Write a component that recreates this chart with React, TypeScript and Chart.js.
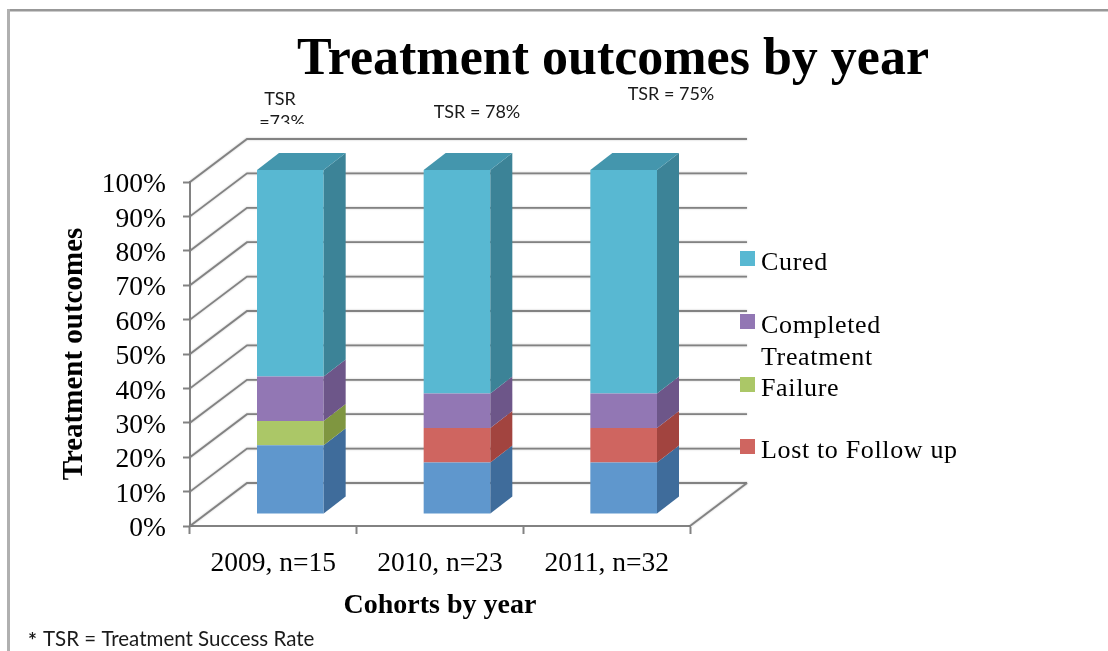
import React, { useEffect, useRef } from "react";
import { Chart, registerables } from "chart.js";

Chart.register(...registerables);

const categories = ["2009, n=15", "2010, n=23", "2011, n=32"];
const other = [20, 15, 15];
const lostToFollowUp = [0, 10, 10];
const failure = [7, 0, 0];
const completedTreatment = [13, 10, 10];
const cured = [60, 65, 65];
const tsrNotes = ["TSR", "TSR = 78%", "TSR = 75%"];

const SERIF = '"Liberation Serif", "DejaVu Serif", serif';
const SANS = 'Lato, "Open Sans", sans-serif';

const FRONT: Record<string, string> = {
  blue: "#5f97cd",
  red: "#cf6560",
  green: "#abc767",
  purple: "#9277b4",
  teal: "#58b8d2",
};
const SIDE: Record<string, string> = {
  blue: "#3f6c9b",
  red: "#a2443f",
  green: "#7f9640",
  purple: "#6d5689",
  teal: "#3c8397",
};
const TOP_FACE = "#4496ad";
const LINE = "#828282";

const BAR_SHIFT = { x: 17, y: -12 };
const BAR_DEPTH = { x: 22, y: -17 };
const WALL_DEPTH = { x: 57, y: -43 };

const sceneryPlugin = {
  id: "scenery",
  beforeDraw(chart: any) {
    const { ctx, width, height } = chart;
    ctx.save();
    ctx.fillStyle = "#ffffff";
    ctx.fillRect(0, 0, width, height);
    ctx.fillStyle = "#989898";
    ctx.fillRect(7, 9, width - 7, 2.5);
    ctx.fillStyle = "#b0b0b0";
    ctx.fillRect(7, 9, 3, height - 9);
    ctx.restore();
  },
  beforeDatasetsDraw(chart: any) {
    const { ctx, chartArea, scales } = chart;
    const y = scales.y;
    ctx.save();
    ctx.strokeStyle = LINE;
    ctx.lineWidth = 1.8;
    ctx.shadowColor = "rgba(0,0,0,0.25)";
    ctx.shadowBlur = 2;
    y.ticks.forEach((t: any) => {
      const py = y.getPixelForValue(t.value);
      ctx.beginPath();
      ctx.moveTo(chartArea.left, py);
      ctx.lineTo(chartArea.left + WALL_DEPTH.x, py + WALL_DEPTH.y);
      ctx.lineTo(chartArea.right + WALL_DEPTH.x, py + WALL_DEPTH.y);
      ctx.stroke();
    });
    ctx.beginPath();
    ctx.moveTo(chartArea.right, chartArea.bottom);
    ctx.lineTo(chartArea.right + WALL_DEPTH.x, chartArea.bottom + WALL_DEPTH.y);
    ctx.stroke();
    ctx.restore();
    ctx.save();
    ctx.translate(BAR_SHIFT.x, BAR_SHIFT.y);
  },
  afterDatasetsDraw(chart: any) {
    const { ctx } = chart;
    const dx = BAR_DEPTH.x;
    const dy = BAR_DEPTH.y;
    chart.data.datasets.forEach((ds: any, di: number) => {
      chart.getDatasetMeta(di).data.forEach((bar: any, i: number) => {
        if (!ds.data[i]) return;
        const { x, y, base, width } = bar.getProps(["x", "y", "base", "width"], true);
        const r = x + width / 2;
        const l = x - width / 2;
        ctx.fillStyle = ds.sideColor;
        ctx.beginPath();
        ctx.moveTo(r, y);
        ctx.lineTo(r + dx, y + dy);
        ctx.lineTo(r + dx, base + dy);
        ctx.lineTo(r, base);
        ctx.closePath();
        ctx.fill();
        if (di === chart.data.datasets.length - 1) {
          ctx.fillStyle = TOP_FACE;
          ctx.beginPath();
          ctx.moveTo(l, y);
          ctx.lineTo(l + dx, y + dy);
          ctx.lineTo(r + dx, y + dy);
          ctx.lineTo(r, y);
          ctx.closePath();
          ctx.fill();
        }
      });
    });
    ctx.restore();
  },
  afterDraw(chart: any) {
    const { ctx } = chart;
    ctx.save();
    ctx.textBaseline = "alphabetic";

    // Title
    ctx.fillStyle = "#000000";
    ctx.font = `bold 52px ${SERIF}`;
    ctx.textAlign = "center";
    ctx.fillText("Treatment outcomes by year", 613, 74);

    // TSR notes above each column
    ctx.font = `18px ${SANS}`;
    ctx.fillStyle = "#1a1a1a";
    const noteX = [280, 477, 671];
    const noteY = [105, 118, 100];
    tsrNotes.forEach((note, i) => {
      ctx.fillText(note, noteX[i], noteY[i]);
    });
    ctx.save();
    ctx.beginPath();
    ctx.rect(250, 112, 70, 12);
    ctx.clip();
    ctx.fillText("=73%", 282, 128);
    ctx.restore();

    // Legend
    ctx.textAlign = "left";
    ctx.font = `26px ${SERIF}`;
    (ctx as any).letterSpacing = "0.65px";
    const legend = [
      { color: FRONT.teal, lines: ["Cured"], y: 270 },
      { color: FRONT.purple, lines: ["Completed", "Treatment"], y: 333 },
      { color: FRONT.green, lines: ["Failure"], y: 396 },
      { color: FRONT.red, lines: ["Lost to Follow up"], y: 458 },
    ];
    legend.forEach((item) => {
      ctx.fillStyle = item.color;
      ctx.fillRect(740, item.y - 19, 15, 15);
      ctx.fillStyle = "#000000";
      item.lines.forEach((line, k) => ctx.fillText(line, 761, item.y + k * 32));
    });
    (ctx as any).letterSpacing = "0px";

    // Footnote
    ctx.fillStyle = "#1a1a1a";
    ctx.font = `bold 21px ${SANS}`;
    ctx.fillText("*", 28, 648);
    ctx.font = `20.5px ${SANS}`;
    ctx.fillText("TSR = Treatment Success Rate", 43, 646);
    ctx.restore();
  },
};

export default function App() {
  const ref = useRef<HTMLCanvasElement | null>(null);

  useEffect(() => {
    if (!ref.current) return;
    const mk = (label: string, data: number[], key: string) => ({
      label,
      data,
      backgroundColor: FRONT[key],
      sideColor: SIDE[key],
      barPercentage: 0.4,
      categoryPercentage: 1,
      stack: "s",
    });
    const chart = new Chart(ref.current, {
      type: "bar",
      data: {
        labels: categories,
        datasets: [
          mk("Other", other, "blue"),
          mk("Lost to Follow up", lostToFollowUp, "red"),
          mk("Failure", failure, "green"),
          mk("Completed Treatment", completedTreatment, "purple"),
          mk("Cured", cured, "teal"),
        ] as any,
      },
      plugins: [sceneryPlugin],
      options: {
        responsive: false,
        animation: false,
        layout: { padding: { left: 0, right: 418, top: 182, bottom: 0 } },
        plugins: { legend: { display: false }, title: { display: false }, tooltip: { enabled: false } },
        scales: {
          x: {
            stacked: true,
            afterFit: (s: any) => {
              s.height = 125;
            },
            grid: { drawOnChartArea: false, drawTicks: true, tickLength: 8, tickColor: LINE, tickWidth: 2, offset: true },
            border: { color: LINE, width: 2 },
            ticks: {
              color: "#000000",
              padding: 13,
              maxRotation: 0,
              autoSkip: false,
              font: { family: SERIF, size: 27.5 },
            },
            title: {
              display: true,
              text: "Cohorts by year",
              color: "#000000",
              font: { family: SERIF, size: 28, weight: "bold" },
              padding: { top: 28, bottom: 28 },
            },
          },
          y: {
            stacked: true,
            min: 0,
            max: 100,
            afterFit: (s: any) => {
              s.width = 190;
            },
            grid: { drawOnChartArea: false, drawTicks: true, tickLength: 7, tickColor: LINE, tickWidth: 2 },
            border: { color: LINE, width: 2 },
            ticks: {
              stepSize: 10,
              autoSkip: false,
              color: "#000000",
              padding: 17,
              labelOffset: 3,
              font: { family: SERIF, size: 27.5 },
              callback: (v: any) => `${v}%`,
            },
            title: {
              display: true,
              text: "Treatment outcomes",
              color: "#000000",
              font: { family: SERIF, size: 29, weight: "bold" },
              padding: { top: 57, bottom: 57 },
            },
          },
        },
      } as any,
    });
    return () => chart.destroy();
  }, []);

  return (
    <div style={{ position: "fixed", left: 0, top: 0, width: 1108, height: 651 }}>
      <canvas ref={ref} width={1108} height={651} style={{ display: "block" }} />
    </div>
  );
}
